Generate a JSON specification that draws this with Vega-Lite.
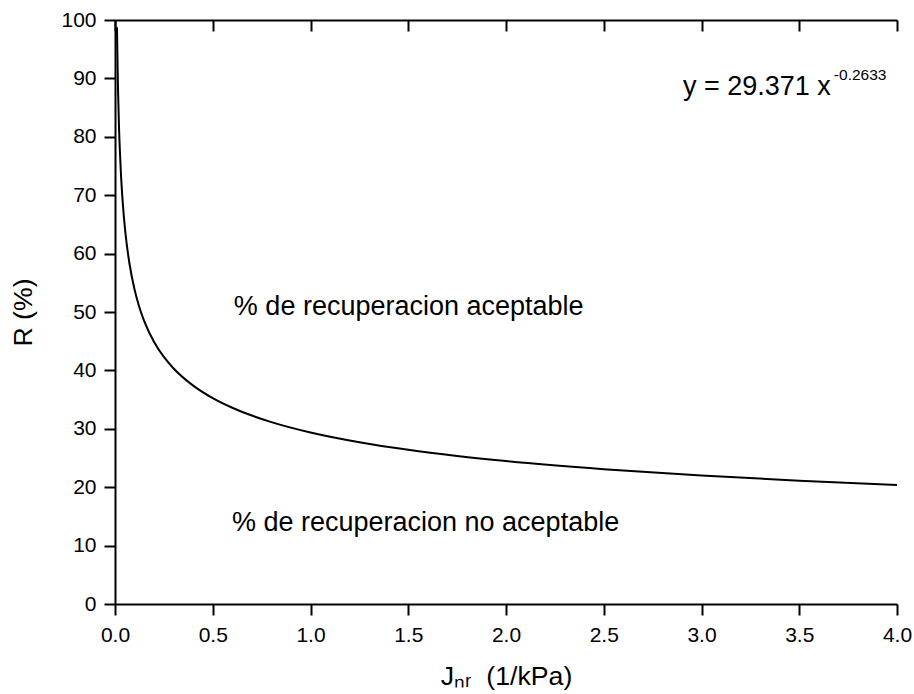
{
  "$schema": "https://vega.github.io/schema/vega-lite/v6.json",
  "width": 782,
  "height": 584,
  "autosize": {"type": "none"},
  "padding": {"left": 115, "top": 20, "right": 17, "bottom": 90},
  "background": "white",
  "config": {
    "font": "Liberation Sans",
    "view": {"stroke": null},
    "axis": {
      "grid": false,
      "labelFlush": false,
      "labelOverlap": false,
      "domainColor": "black",
      "domainWidth": 2,
      "tickColor": "black",
      "tickWidth": 2,
      "labelColor": "black",
      "titleColor": "black",
      "labelFont": "Liberation Sans",
      "titleFont": "Liberation Sans",
      "labelFontSize": 21,
      "titleFontSize": 26.7,
      "titleFontWeight": "normal"
    }
  },
  "datasets": {
    "curve": [
      {"x": 0.01, "R": 98.74},
      {"x": 0.015, "R": 88.75},
      {"x": 0.02, "R": 82.27},
      {"x": 0.03, "R": 73.94},
      {"x": 0.04, "R": 68.55},
      {"x": 0.05, "R": 64.64},
      {"x": 0.06, "R": 61.61},
      {"x": 0.075, "R": 58.09},
      {"x": 0.1, "R": 53.86},
      {"x": 0.125, "R": 50.78},
      {"x": 0.15, "R": 48.40},
      {"x": 0.2, "R": 44.87},
      {"x": 0.25, "R": 42.31},
      {"x": 0.3, "R": 40.33},
      {"x": 0.4, "R": 37.39},
      {"x": 0.5, "R": 35.25},
      {"x": 0.6, "R": 33.60},
      {"x": 0.7, "R": 32.27},
      {"x": 0.8, "R": 31.15},
      {"x": 1.0, "R": 29.37},
      {"x": 1.25, "R": 27.70},
      {"x": 1.5, "R": 26.40},
      {"x": 1.75, "R": 25.35},
      {"x": 2.0, "R": 24.47},
      {"x": 2.5, "R": 23.08},
      {"x": 3.0, "R": 21.99},
      {"x": 3.5, "R": 21.12},
      {"x": 4.0, "R": 20.39}
    ],
    "labels": [
      {"x": 0.608, "R": 49.5, "label": "% de recuperacion aceptable", "size": 27},
      {"x": 0.598, "R": 12.43, "label": "% de recuperacion no aceptable", "size": 27},
      {"x": 2.905, "R": 87.23, "label": "y = 29.371 x", "size": 27},
      {"x": 3.677, "R": 89.68, "label": "-0.2633", "size": 15.5}
    ]
  },
  "layer": [
    {
      "data": {"name": "curve"},
      "mark": {"type": "line", "color": "black", "strokeWidth": 2, "interpolate": "monotone", "clip": true},
      "encoding": {
        "x": {
          "field": "x", "type": "quantitative",
          "scale": {"domain": [0, 4], "nice": false},
          "axis": {
            "orient": "bottom",
            "title": "Jₙᵣ\u00a0\u00a0(1/kPa)",
            "values": [0, 0.5, 1, 1.5, 2, 2.5, 3, 3.5, 4],
            "format": ".1f",
            "tickSize": 11,
            "labelPadding": 9,
            "titlePadding": 18
          }
        },
        "y": {
          "field": "R", "type": "quantitative",
          "scale": {"domain": [0, 100], "nice": false},
          "axis": {
            "orient": "left",
            "title": "R (%)",
            "values": [0, 5, 10, 15, 20, 25, 30, 35, 40, 45, 50, 55, 60, 65, 70, 75, 80, 85, 90, 95, 100],
            "labelExpr": "datum.value % 10 === 0 ? datum.label : ''",
            "format": "d",
            "tickSize": {"condition": {"test": "datum.value % 10 === 0", "value": 11}, "value": 6},
            "labelPadding": 8,
            "titlePadding": 23
          }
        }
      }
    },
    {
      "data": {"name": "curve"},
      "mark": {"type": "line", "opacity": 0},
      "encoding": {
        "x": {
          "field": "x", "type": "quantitative",
          "axis": {
            "orient": "top",
            "title": null,
            "labels": false,
            "values": [0, 0.5, 1, 1.5, 2, 2.5, 3, 3.5, 4],
            "tickSize": -11
          }
        },
        "y": {"field": "R", "type": "quantitative"}
      }
    },
    {
      "data": {"name": "labels"},
      "mark": {"type": "text", "align": "left", "baseline": "alphabetic", "color": "black", "font": "Liberation Sans"},
      "encoding": {
        "x": {"field": "x", "type": "quantitative", "axis": null},
        "y": {"field": "R", "type": "quantitative"},
        "text": {"field": "label"},
        "size": {"field": "size", "type": "quantitative", "scale": null, "legend": null}
      }
    }
  ],
  "resolve": {"axis": {"x": "independent"}}
}
